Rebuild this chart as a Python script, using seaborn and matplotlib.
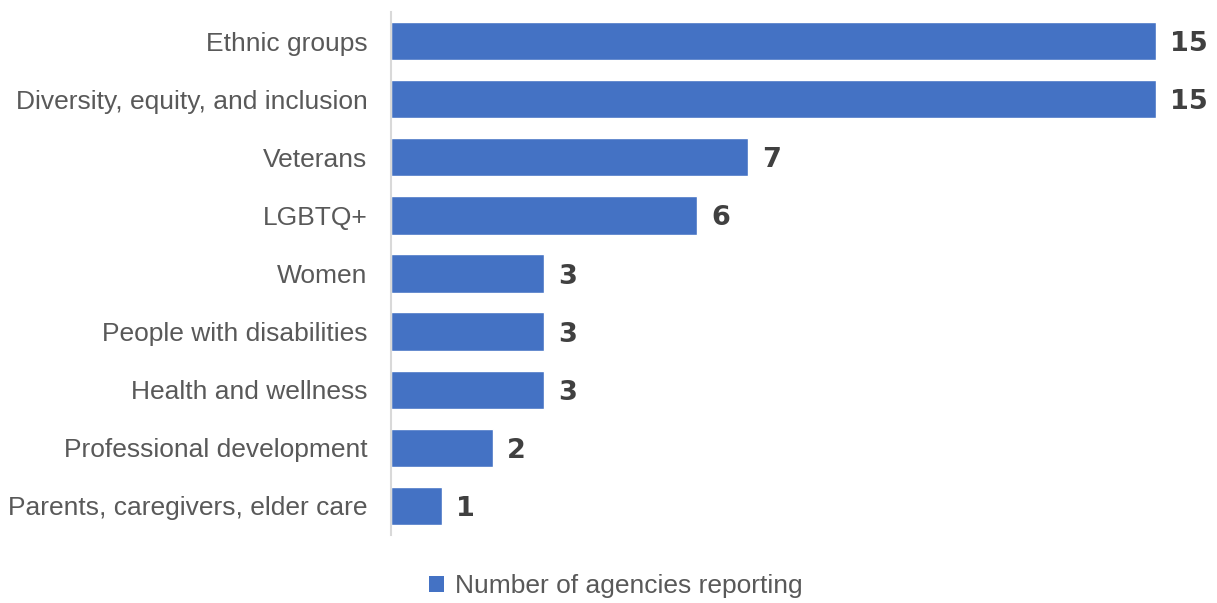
import matplotlib
matplotlib.use("Agg")
import matplotlib.pyplot as plt
import seaborn as sns
import pandas as pd
from matplotlib.patches import Patch

categories = [
    "Ethnic groups",
    "Diversity, equity, and inclusion",
    "Veterans",
    "LGBTQ+",
    "Women",
    "People with disabilities",
    "Health and wellness",
    "Professional development",
    "Parents, caregivers, elder care",
]
counts = [15, 15, 7, 6, 3, 3, 3, 2, 1]
series_name = "Number of agencies reporting"

sns.set_theme(style="white")
plt.rcParams["font.family"] = ["Liberation Sans", "DejaVu Sans"]

df = pd.DataFrame({"category": categories, "count": counts})
bar_color = "#4472C4"

fig = plt.figure(figsize=(12.17, 6.03), dpi=100)
ax = fig.add_axes([0.3213, 0.1128, 0.6287, 0.8672])

sns.barplot(data=df, y="category", x="count", orient="h", color=bar_color,
            width=0.66, saturation=1, ax=ax)

ax.set_xlim(0, 15)
ax.set_ylim(8.5, -0.5)
ax.set_xlabel("")
ax.set_ylabel("")
ax.set_xticks([])
for side in ["top", "right", "bottom"]:
    ax.spines[side].set_visible(False)
ax.spines["left"].set_color("#d9d9d9")
ax.spines["left"].set_linewidth(1.5)
ax.tick_params(axis="y", length=0, pad=17, labelsize=19, labelcolor="#595959")

for container in ax.containers:
    texts = ax.bar_label(container, labels=[str(v) for v in counts], padding=10,
                         fontsize=19.5, fontweight="bold", color="#404040",
                         family="DejaVu Sans")
    for t in texts:
        t.set_va("center_baseline")

handle = Patch(facecolor=bar_color, edgecolor="none")
fig.legend([handle], [series_name], loc="center", bbox_to_anchor=(0.506, 0.028),
           frameon=False, fontsize=19, labelcolor="#595959",
           handlelength=0.55, handleheight=0.55, handletextpad=0.4)

fig.savefig("out.png", dpi=100)
